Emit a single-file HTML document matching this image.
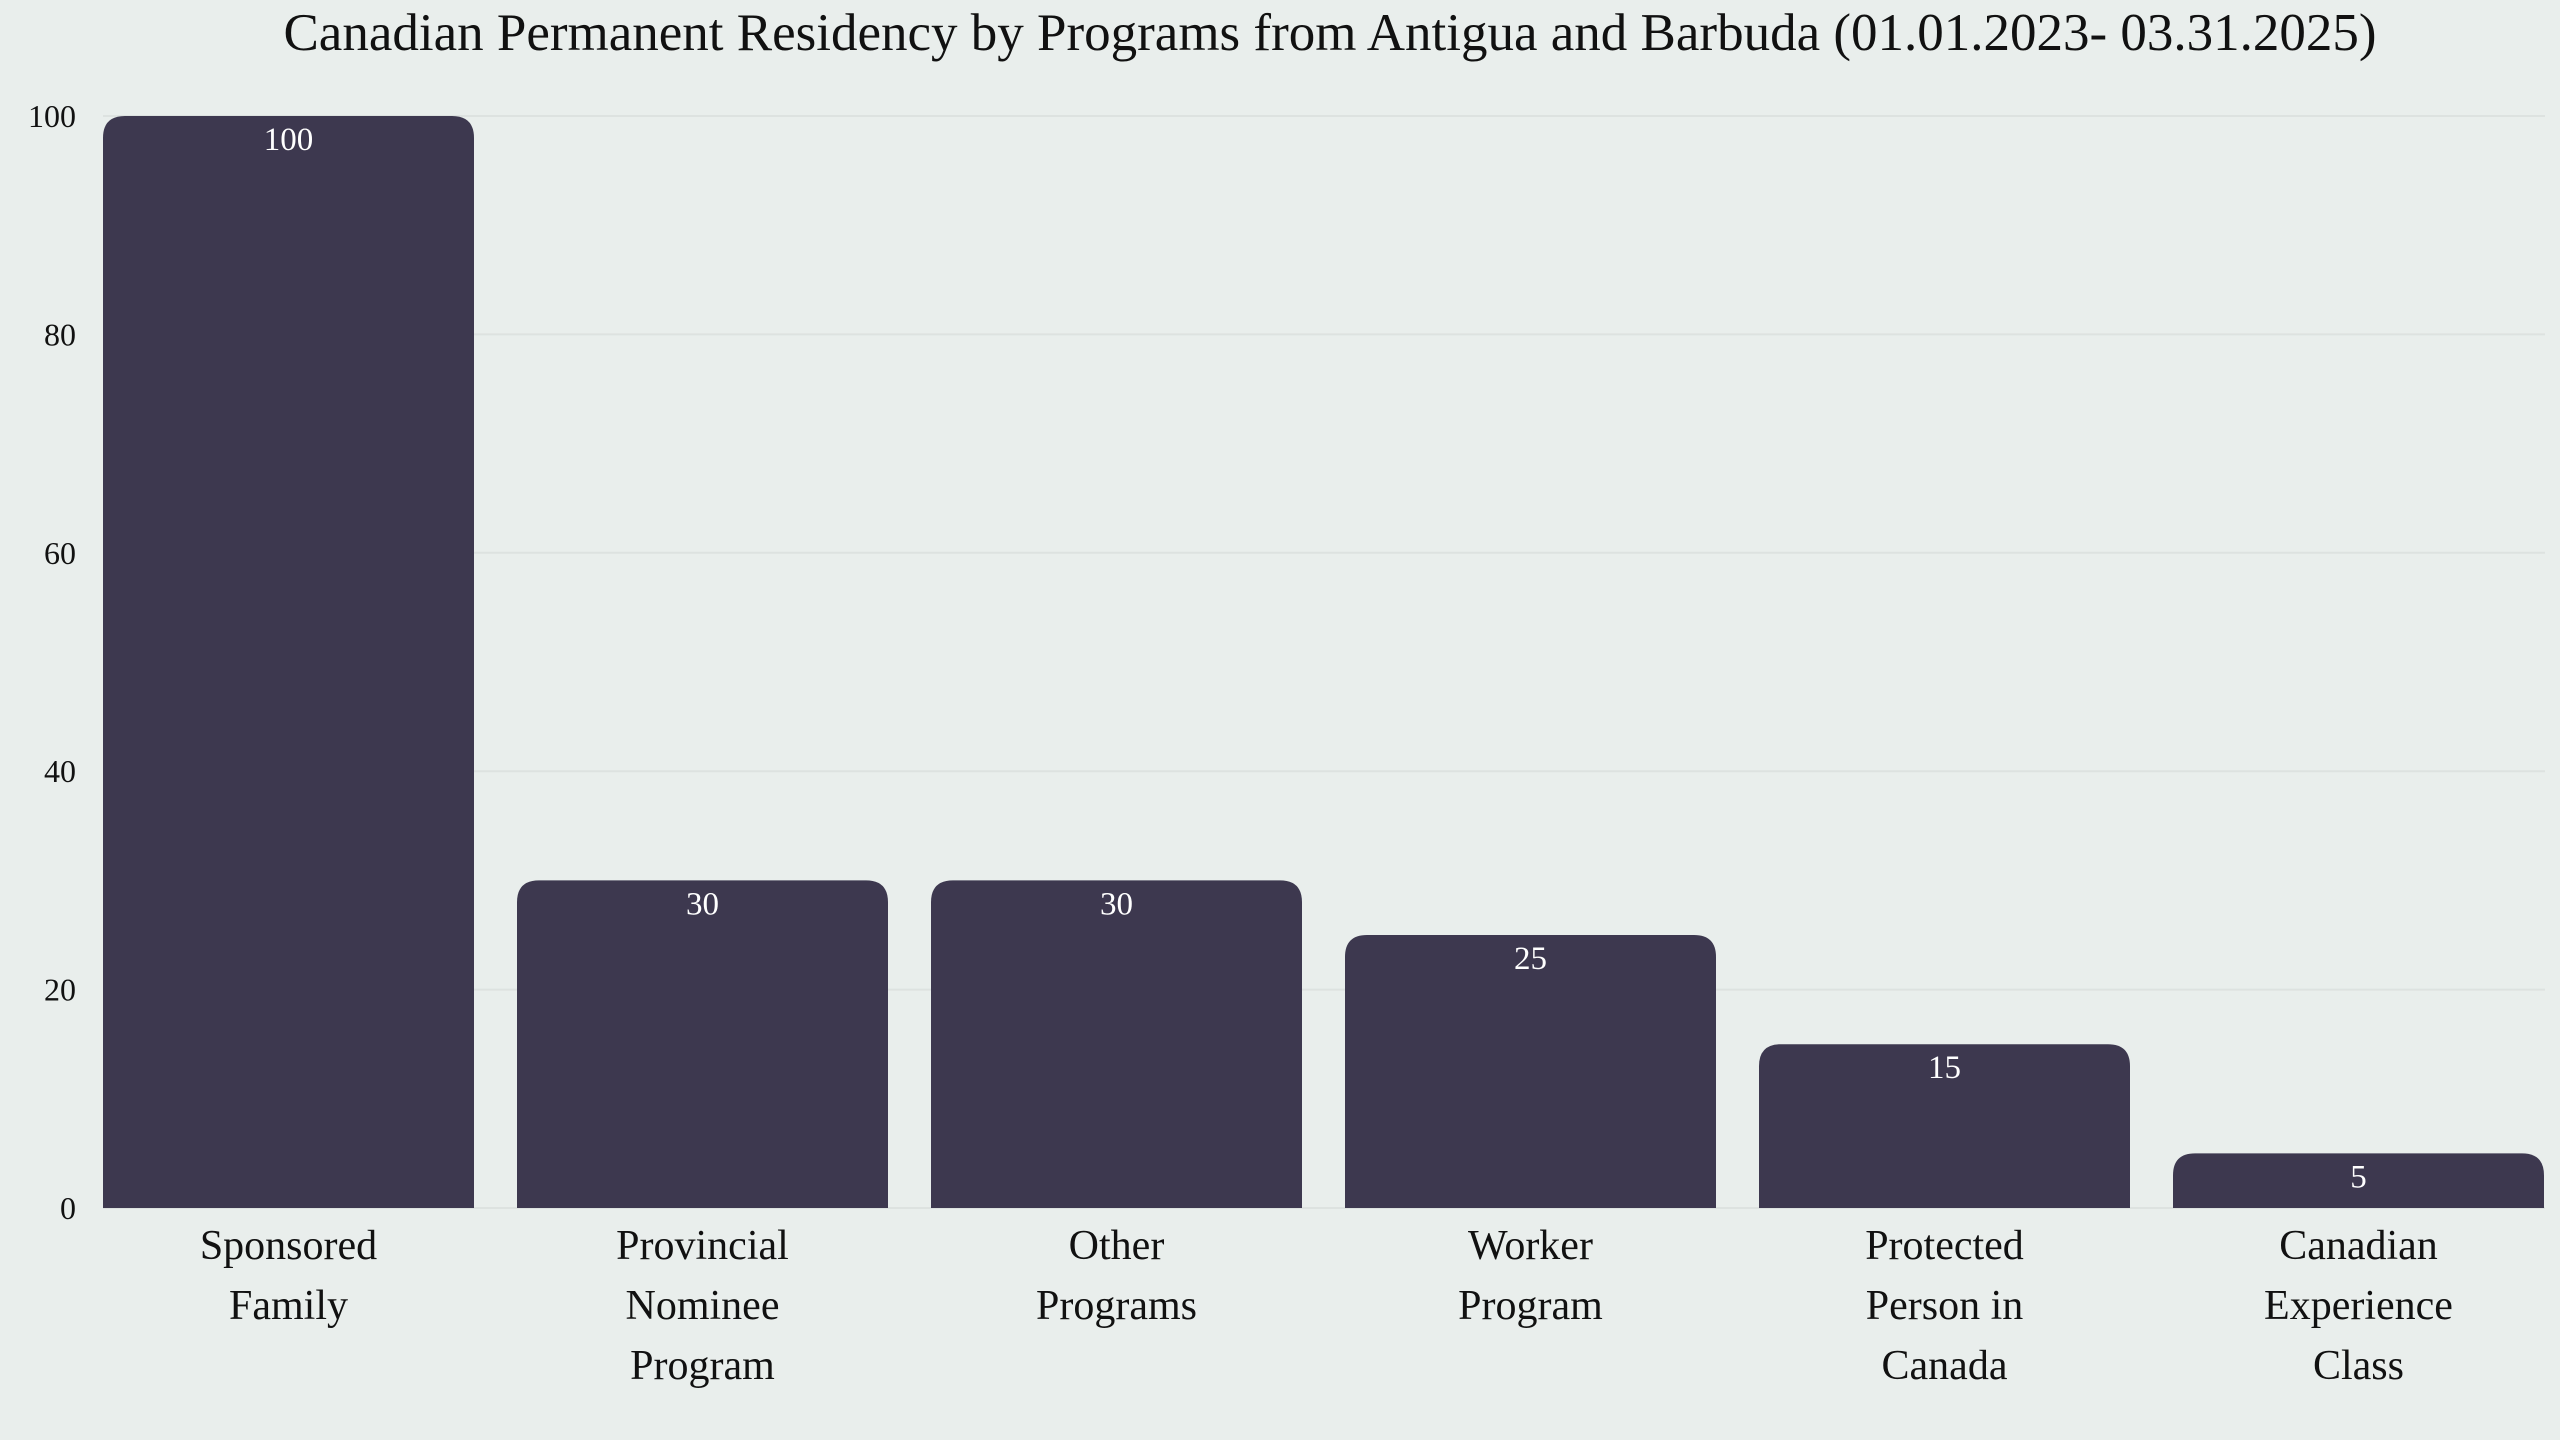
<!DOCTYPE html>
<html><head><meta charset="utf-8"><style>
body{margin:0;width:2560px;height:1440px;background:#e9eeec;overflow:hidden;font-family:"Liberation Serif",serif;}
.cat{position:absolute;top:1216px;width:414px;text-align:center;font-size:42px;line-height:60px;color:#111;}
</style></head><body>
<svg id="chart" width="2560" height="1440" style="position:absolute;left:0;top:0">
<text x="1330" y="50" text-anchor="middle" font-size="53" fill="#111" font-family="Liberation Serif, serif">Canadian Permanent Residency by Programs from Antigua and Barbuda (01.01.2023- 03.31.2025)</text>
<g id="grid"></g><g id="bars"></g>
</svg>
<div id="cats"></div>
<script>
const categories=["Sponsored<br>Family","Provincial<br>Nominee<br>Program","Other<br>Programs","Worker<br>Program","Protected<br>Person in<br>Canada","Canadian<br>Experience<br>Class"];
const values=[100,30,30,25,15,5];
const ticks=[0,20,40,60,80,100];
const NS="http://www.w3.org/2000/svg";
const y0=1208,yTop=116,left=103,step=414,bw=371;
const y=v=>y0-(v/100)*(y0-yTop);
const grid=document.getElementById('grid'),bars=document.getElementById('bars');
ticks.forEach(t=>{
 const l=document.createElementNS(NS,'line');
 
 
 l.setAttribute('x1',left);l.setAttribute('x2',2545);l.setAttribute('y1',y(t));l.setAttribute('y2',y(t));
 l.setAttribute('stroke','#dde2e0');l.setAttribute('stroke-width','2');grid.appendChild(l);
 const tx=document.createElementNS(NS,'text');
 
 
 tx.setAttribute('x',76);tx.setAttribute('y',y(t)+11);tx.setAttribute('text-anchor','end');
 tx.setAttribute('font-size','32');tx.setAttribute('fill','#111');tx.textContent=t;grid.appendChild(tx);
});
values.forEach((v,i)=>{
 const x=left+i*step,top=y(v),h=y0-top,r=Math.min(22,h);
 const p=document.createElementNS(NS,'path');
 
 
 p.setAttribute('d',`M${x},${y0}V${top+r}Q${x},${top} ${x+r},${top}H${x+bw-r}Q${x+bw},${top} ${x+bw},${top+r}V${y0}Z`);
 p.setAttribute('fill','#3d384f');bars.appendChild(p);
 const t=document.createElementNS(NS,'text');
 
 
 t.setAttribute('x',x+bw/2);t.setAttribute('y',top+34);t.setAttribute('text-anchor','middle');
 t.setAttribute('font-size','33');t.setAttribute('fill','#fff');t.textContent=v;bars.appendChild(t);
 const d=document.createElement('div');
 
 
 d.className='cat';d.style.left=(x+bw/2-207)+'px';d.innerHTML=categories[i];
 document.getElementById('cats').appendChild(d);
});
</script>
</body></html>
